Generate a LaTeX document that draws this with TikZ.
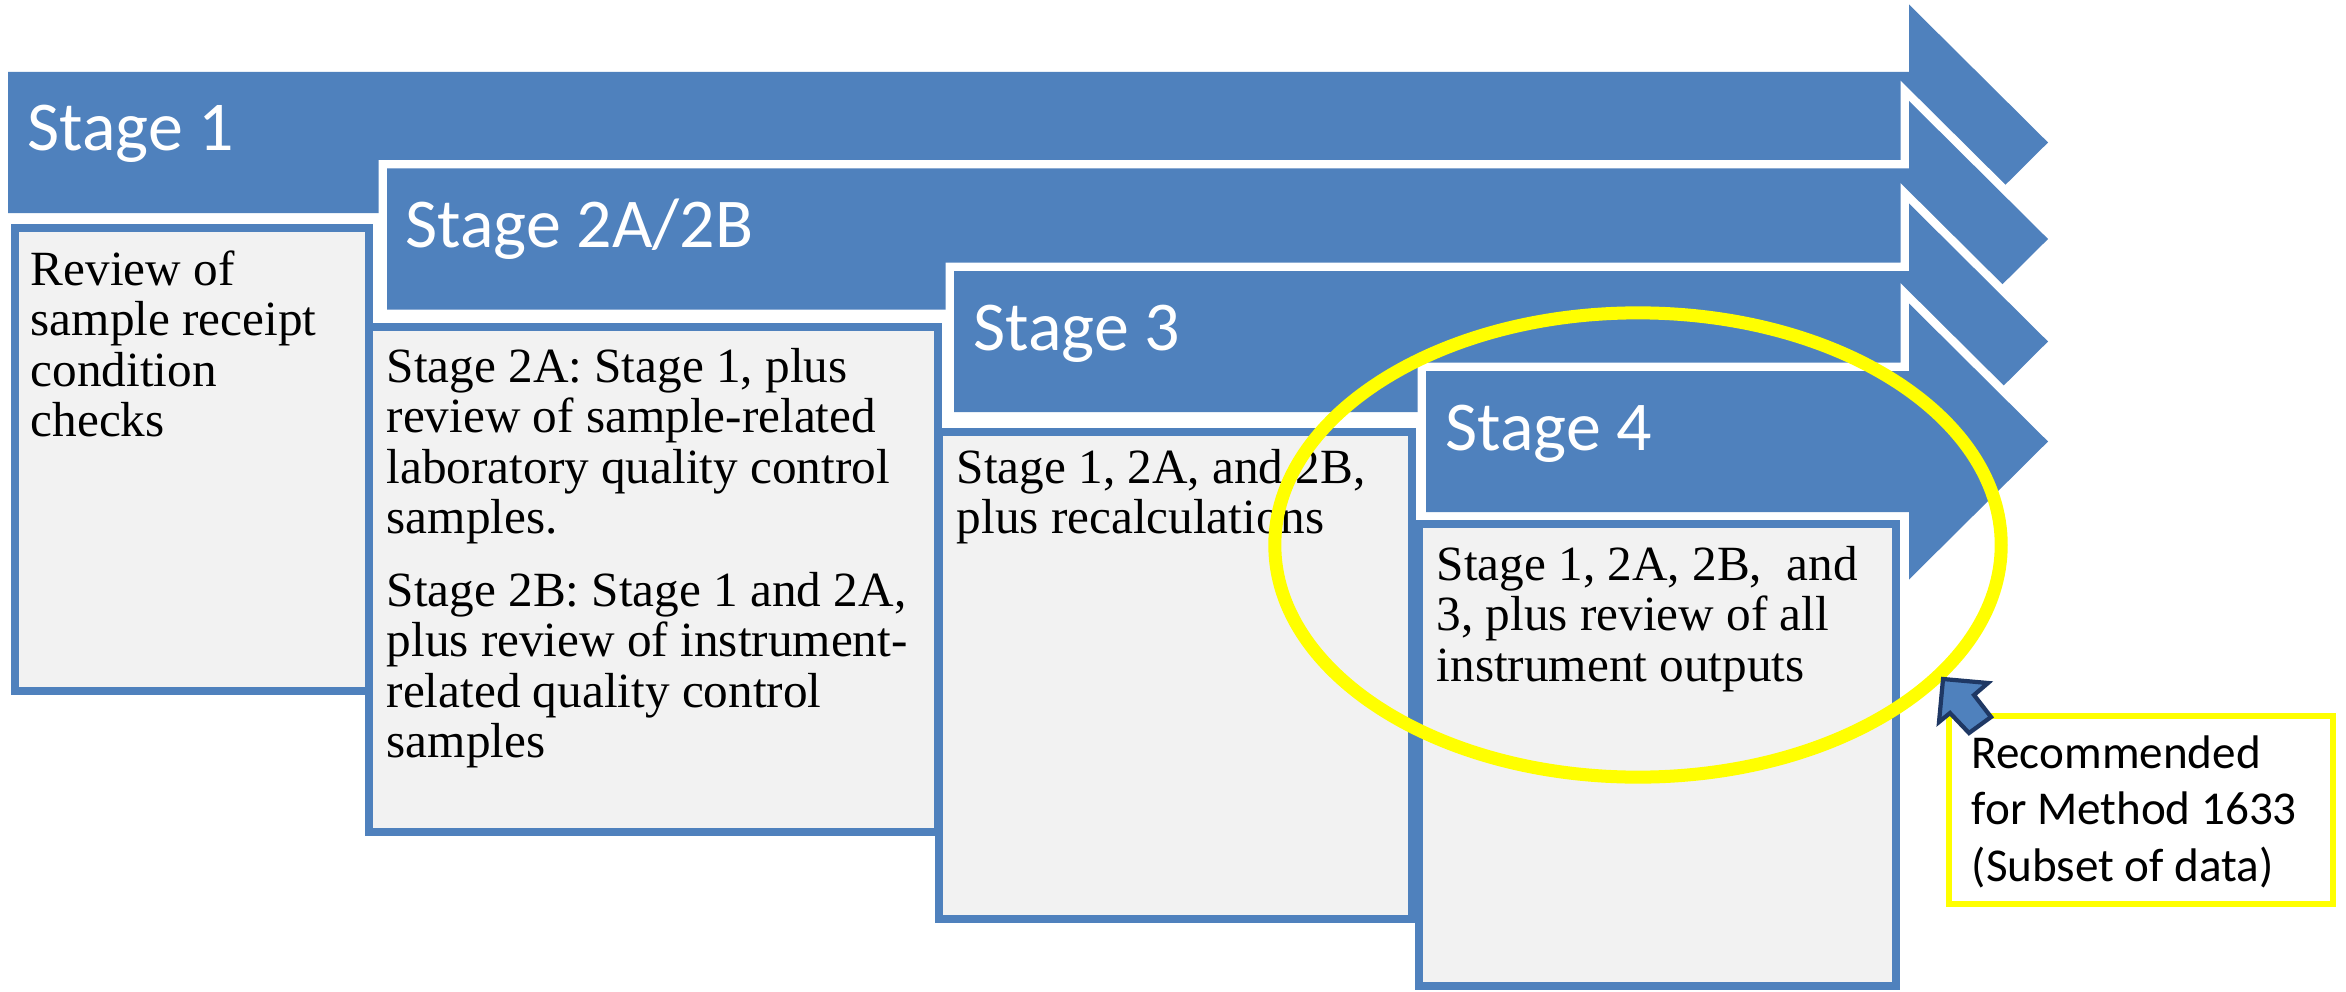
\documentclass[tikz,border=0pt]{standalone}
\usepackage{fontspec}
\setmainfont{Liberation Serif}
\newfontfamily\calib{Carlito}
\definecolor{accblue}{HTML}{4F81BD}
\definecolor{boxgray}{HTML}{F2F2F2}
\definecolor{navyline}{HTML}{1F3864}
\definecolor{hiyellow}{HTML}{FFFF00}
\newcommand{\bodypar}[1]{\parbox[t]{12cm}{\fontsize{14pt}{14.37pt}\selectfont\raggedright #1}}
\newcommand{\notepar}[1]{\parbox[t]{6cm}{\calib\fontsize{13.4pt}{16.2pt}\selectfont\raggedright #1}}
\tikzset{
  stagearrow/.style={fill=accblue, preaction={draw=white, line width=4.8pt, line join=miter}},
  stagebox/.style={draw=accblue, fill=boxgray, line width=2.4pt},
  stagelabel/.style={anchor=base west, inner sep=0pt, text=white, font=\calib\fontsize{19.9pt}{24pt}\selectfont},
  boxlabel/.style={anchor=base west, inner sep=0pt, text=black},
  ring/.style={draw=hiyellow, line width=3.7pt},
  notebox/.style={draw=hiyellow, line width=1.7pt, fill=white},
  pointer/.style={fill=accblue, draw=navyline, line width=1.2pt, line join=miter}
}
\begin{document}
\begin{tikzpicture}[x=0.01cm, y=-0.01cm]
\useasboundingbox (0,0) rectangle (2346,991);
% Stage 1
\path[stagearrow] (8,72) -- (1909,72) -- (1909,4.5) -- (2048,142.5) -- (1909,280.5) -- (1909,213) -- (8,213) -- cycle;
\node[stagelabel] (s1) at (27,151) {Stage 1};
\draw[stagebox] (15,228) rectangle (369,691);
\node[boxlabel] (t1) at (30,285) {\bodypar{Review of\\sample receipt\\condition\\checks}};
% Stage 2
\path[stagearrow] (387,168.5) -- (1909,168.5) -- (1909,101) -- (2048,239) -- (1909,377) -- (1909,309.5) -- (387,309.5) -- cycle;
\node[stagelabel] (s2) at (405,247) {Stage 2A/2B};
\draw[stagebox] (369,327) rectangle (938,832);
\node[boxlabel] (t2) at (386,382) {\bodypar{Stage 2A: Stage 1, plus\\review of sample-related\\laboratory quality control\\samples.\\[6.3pt]Stage 2B: Stage 1 and 2A,\\plus review of instrument-\\related quality control\\samples}};
% Stage 3
\path[stagearrow] (954,271) -- (1909,271) -- (1909,203.5) -- (2048,341.5) -- (1909,479.5) -- (1909,412) -- (954,412) -- cycle;
\node[stagelabel] (s3) at (973,350) {Stage 3};
\draw[stagebox] (939,432) rectangle (1412,919);
\node[boxlabel] (t3) at (956,483) {\bodypar{Stage 1, 2A, and 2B,\\plus recalculations}};
% Stage 4
\path[stagearrow] (1426,371) -- (1909,371) -- (1909,303.5) -- (2048,441.5) -- (1909,579.5) -- (1909,512) -- (1426,512) -- cycle;
\node[stagelabel] (s4) at (1445,450) {Stage 4};
\draw[stagebox] (1419,524) rectangle (1896,986);
\node[boxlabel] (t4) at (1436,580) {\bodypar{Stage 1, 2A, 2B,\ \ and\\3, plus review of all\\instrument outputs}};
% highlight
\draw[ring] (1638,545) ellipse [x radius=3.63cm, y radius=2.32cm];
\draw[notebox] (1949,716) rectangle (2333,904);
\node[boxlabel] (rec) at (1971,768) {\notepar{Recommended\\for Method 1633\\(Subset of data)}};
\path[pointer] (1943,679) -- (1988,683) -- (1974,695) -- (1991,717) -- (1969,733) -- (1950,713) -- (1939,722) -- cycle;
\end{tikzpicture}
\end{document}
